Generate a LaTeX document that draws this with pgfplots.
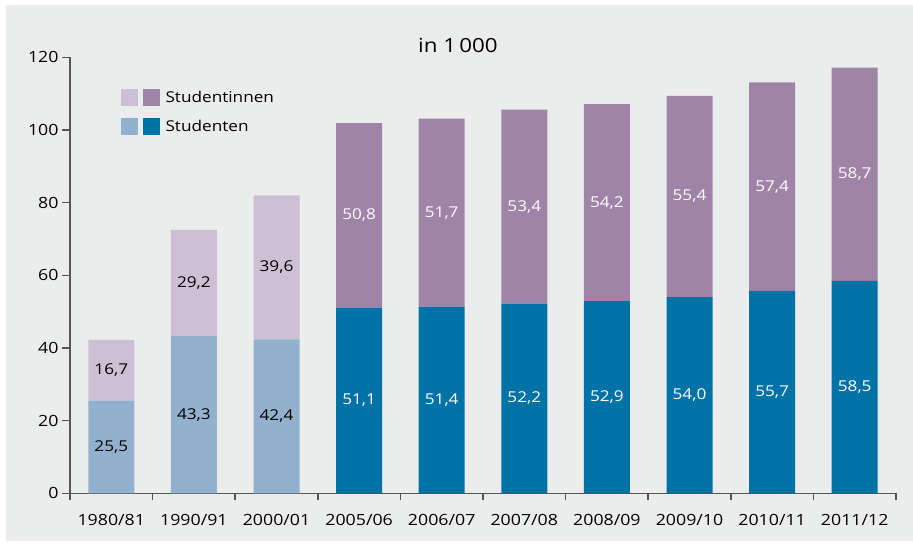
\documentclass[border=0pt]{standalone}
\usepackage{pgfplots}
\usepackage{pgfplotstable}
\pgfplotsset{compat=1.18}
\usepackage{fontspec}
\setmainfont{Open Sans}[FakeStretch=1.15]
\definecolor{bg}{RGB}{235,237,236}
\definecolor{mlight}{RGB}{145,177,206}
\definecolor{mdark}{RGB}{0,114,166}
\definecolor{flight}{RGB}{205,192,213}
\definecolor{fdark}{RGB}{160,132,168}
\definecolor{axgray}{RGB}{85,85,85}
\pgfplotstableread{
x mL mD fL fD
0 25.5 0 16.7 0
1 43.3 0 29.2 0
2 42.4 0 39.6 0
3 0 51.1 0 50.8
4 0 51.4 0 51.7
5 0 52.2 0 53.4
6 0 52.9 0 54.2
7 0 54.0 0 55.4
8 0 55.7 0 57.4
9 0 58.5 0 58.7
}\data
\newcommand\fs{\fontsize{15}{18}\selectfont}
\pgfplotsset{
  seg/.style n args={2}{
    fill=#1, draw=none,
    visualization depends on={\thisrow{#2} \as \h},
    nodes near coords={\ifdim\h pt>0pt \pgfmathprintnumber[fixed,fixed zerofill,precision=1,use comma]{\h}\fi},
    every node near coord/.append style={anchor=center, font=\fs},
  },
}
\begin{document}
\begin{tikzpicture}
\useasboundingbox[fill=white] (-111.3bp,-52.7bp) rectangle (801.7bp,493.3bp);
\fill[bg] (-105.3bp,-47.7bp) rectangle (801.7bp,488.3bp);
\begin{axis}[
  at={(0,0)}, anchor=origin,
  x=82.6bp, y=3.633bp,
  xmin=-0.5, xmax=9.5, ymin=0, ymax=120,
  ybar stacked, bar width=46bp,
  axis x line=bottom, axis y line=left,
  axis line style={-, draw=axgray, line width=1.5bp},
  tick style={draw=axgray, line width=1.5bp},
  tick align=outside, major tick length=0pt, minor tick length=7bp,
  xtick={0,1,...,9},
  xticklabels={1980/81,1990/91,2000/01,2005/06,2006/07,2007/08,2008/09,2009/10,2010/11,2011/12},
  minor xtick={-0.5,0.5,...,9.5},
  xticklabel style={yshift=-17bp},
  ytick={0,20,...,120},
  yticklabel style={xshift=-8bp},
  tick label style={font=\fontsize{15.5}{18}\selectfont},
  /pgf/number format/assume math mode=true,
  clip=false,
  legend style={at={(axis cs:0.117,111.3)}, anchor=north west, draw=none, fill=none,
    inner sep=0pt, row sep=12bp, font=\fs, legend cell align=left,
    /tikz/every odd column/.append style={column sep=4bp}},
]
\addlegendimage{legend image code/.code={
  \fill[flight] (0bp,-8bp) rectangle (16bp,8bp);
  \fill[fdark] (22bp,-8bp) rectangle (38bp,8bp);}}
\addlegendimage{legend image code/.code={
  \fill[mlight] (0bp,-8bp) rectangle (16bp,8bp);
  \fill[mdark] (22bp,-8bp) rectangle (38bp,8bp);}}
\addplot[seg={mlight}{mL}, nodes near coords style={text=black}] table[x=x,y=mL]{\data};
\addplot[seg={mdark}{mD}, nodes near coords style={text=white}] table[x=x,y=mD]{\data};
\addplot[seg={flight}{fL}, nodes near coords style={text=black}] table[x=x,y=fL]{\data};
\addplot[seg={fdark}{fD}, nodes near coords style={text=white}] table[x=x,y=fD]{\data};
\legend{Studentinnen,Studenten}
\node[font=\fontsize{19.5}{22}\selectfont] at (axis cs:4.197,123.4) {in 1\,000};
\end{axis}
\foreach \v in {0,20,40,60,80,100,120}
  \fill[axgray] ({-41.3bp+0.75bp},{\v*3.633bp-0.8bp}) rectangle ({-41.3bp-7.5bp},{\v*3.633bp+0.8bp});
\end{tikzpicture}
\end{document}
